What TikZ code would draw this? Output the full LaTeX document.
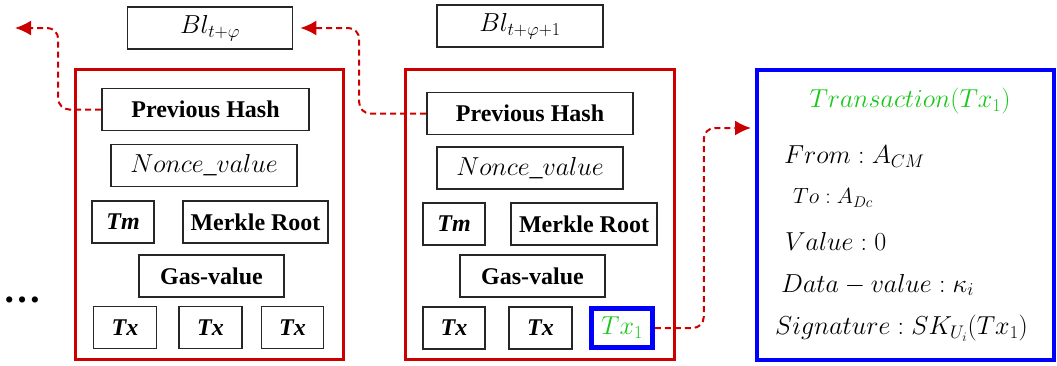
\RequirePackage{fix-cm}
\documentclass[tikz,border=0pt]{standalone}
\usepackage{fontspec}
\setmainfont{Liberation Serif}
\usetikzlibrary{arrows.meta}
\DeclareMathSizes{26}{26}{18.2}{13}
\DeclareMathSizes{22}{22}{15.4}{11}

\definecolor{blkred}{RGB}{204,0,0}
\definecolor{txblue}{RGB}{0,0,255}
\definecolor{txgreen}{RGB}{25,200,25}

\tikzset{
  field/.style={draw=black!85, line width=1.6pt, minimum height=42pt,
    inner sep=0pt, font=\fontsize{24}{28}\selectfont\bfseries},
  mfield/.style={field, font=\fontsize{26}{30}\selectfont},
  block/.style={draw=blkred, line width=3pt, minimum width=268pt,
    minimum height=290pt, inner sep=0pt},
  txbox/.style={draw=txblue, line width=3.5pt, inner sep=0pt},
  txline/.style={anchor=west, inner sep=0pt, font=\fontsize{26}{30}\selectfont},
  link/.style={draw=blkred, line width=2pt, dash pattern=on 6pt off 4pt,
    rounded corners=11pt, -{Latex[length=16pt,width=15pt]}}
}

\begin{document}
\begin{tikzpicture}[x=1pt,y=-1pt]
\useasboundingbox (0,0) rectangle (1057,365);

% block headers
\node[mfield, minimum width=165pt] (bl1) at (210,28) {$Bl_{t+\varphi}$};
\node[mfield, minimum width=166pt] (bl2) at (520,26) {$Bl_{t+\varphi+1}$};

% block t+phi
\node[block] (blk1) at (209,214) {};
\node[field, minimum width=207pt] (ph1) at (205.5,109.5) {Previous Hash};
\node[mfield, minimum width=186pt] (nv1) at (204,165.5) {$Nonce\_value$};
\node[field, minimum width=62pt] (tm1) at (123,222) {\itshape Tm};
\node[field, minimum width=145pt] (mr1) at (255.5,222) {Merkle Root};
\node[field, minimum width=145pt] (gv1) at (211.5,276) {Gas-value};
\node[field, minimum width=63pt] (txa) at (125,327.5) {\itshape Tx};
\node[field, minimum width=63pt] (txb) at (210.5,327.5) {\itshape Tx};
\node[field, minimum width=62pt] (txc) at (292.5,327.5) {\itshape Tx};

% block t+phi+1
\node[block, minimum width=269pt] (blk2) at (539.5,214) {};
\node[field, minimum width=206pt] (ph2) at (530,113.5) {Previous Hash};
\node[mfield, minimum width=186pt] (nv2) at (530,168) {$Nonce\_value$};
\node[field, minimum width=62pt] (tm2) at (454,224) {\itshape Tm};
\node[field, minimum width=146pt] (mr2) at (584,224) {Merkle Root};
\node[field, minimum width=145pt] (gv2) at (532.5,276) {Gas-value};
\node[field, minimum width=62pt] (txd) at (454,328) {\itshape Tx};
\node[field, minimum width=63pt] (txe) at (540.5,328) {\itshape Tx};
\node[mfield, draw=txblue, line width=4.5pt, minimum width=61pt, minimum height=39pt,
  text=txgreen] (tx1) at (622,328) {$Tx_1$};

% earlier blocks
\node[inner sep=0pt, font=\fontsize{38}{40}\selectfont\bfseries] (dots) at (23,300) {…};

% transaction details
\node[txbox, minimum width=297pt, minimum height=290pt] (tr) at (905.5,215) {};
\node[inner sep=0pt, font=\fontsize{26}{30}\selectfont, text=txgreen] (trt) at (910,101) {$Transaction(Tx_1)$};
\node[txline] (from) at (784,157) {$From: A_{CM}$};
\node[txline, font=\fontsize{22}{26}\selectfont] (to) at (793,198) {$To: A_{Dc}$};
\node[txline] (val) at (785,241) {$Value: 0$};
\node[txline] (data) at (781,285) {$Data-value: \kappa_i$};
\node[txline] (sig) at (775,328) {$Signature: SK_{U_i}(Tx_1)$};

% hash links
\coordinate (prev0) at (15,28);
\coordinate (trin) at (751,128);
\draw[link] (ph1.west) -- ++(-43,0) |- (prev0);
\draw[link] (ph2.west) -- ++(-67,0) |- ([xshift=7pt]bl1.east);
\draw[link] (tx1.east) -- ++(49,0) |- (trin);
\end{tikzpicture}
\end{document}
